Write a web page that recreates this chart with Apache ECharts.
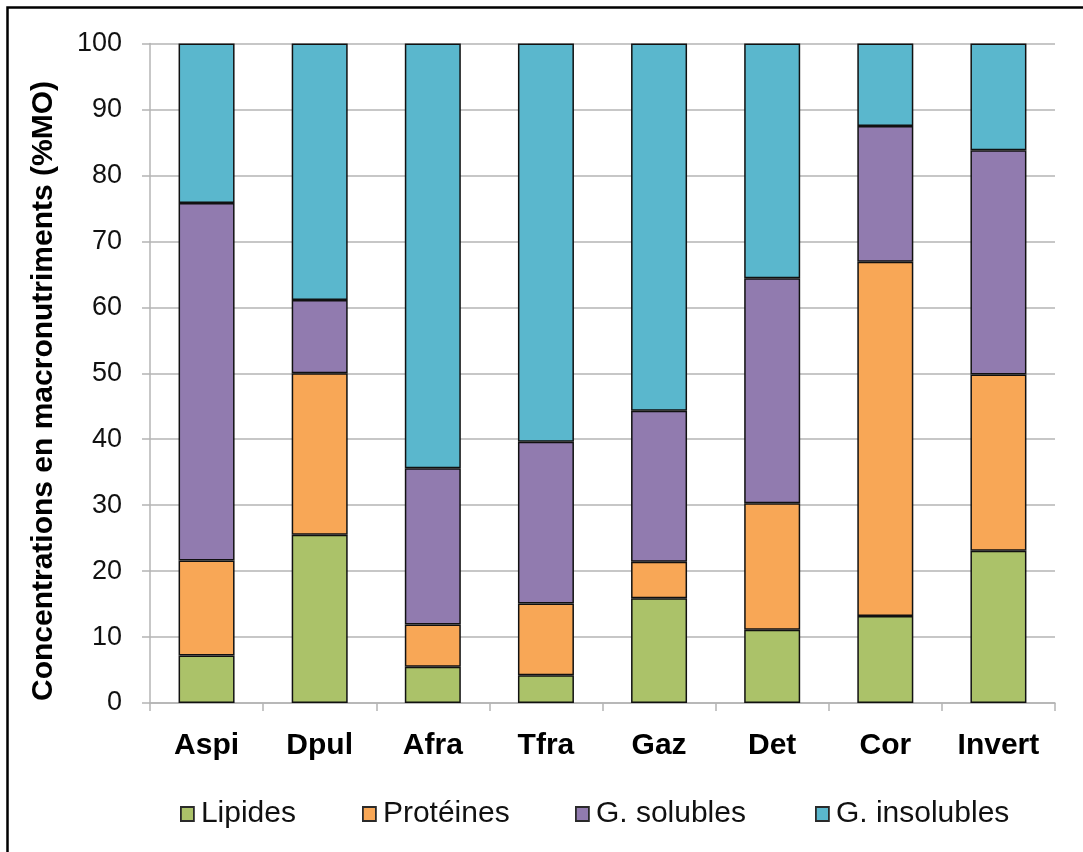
<!DOCTYPE html>
<html>
<head>
<meta charset="utf-8">
<script src="https://cdn.jsdelivr.net/npm/echarts@6/dist/echarts.min.js"></script>
<style>
  html, body { margin: 0; padding: 0; background: #ffffff; }
  #chart { width: 1083px; height: 852px; }
</style>
</head>
<body>
<div id="chart"></div>
<script>
// Macronutrient composition (% of organic matter) per food category
const categories = ['Aspi', 'Dpul', 'Afra', 'Tfra', 'Gaz', 'Det', 'Cor', 'Invert'];
const lipides    = [7.2, 25.5, 5.5, 4.2, 15.9, 11.1, 13.2, 23.1];
const proteines  = [14.4, 24.5, 6.4, 10.9, 5.5, 19.2, 53.7, 26.7];
const gSolubles  = [54.2, 11.1, 23.7, 24.5, 22.9, 34.1, 20.6, 34.0];
const gInsolubles = [24.2, 38.9, 64.4, 60.4, 55.7, 35.6, 12.5, 16.2];
const yTicks = [0, 10, 20, 30, 40, 50, 60, 70, 80, 90, 100];

const seriesNames = ['Lipides', 'Protéines', 'G. solubles', 'G. insolubles'];
const seriesData = [lipides, proteines, gSolubles, gInsolubles];
const colors = ['#abc269', '#f8a756', '#917baf', '#5ab7cd'];

const FONT = 'Liberation Sans, Arial, sans-serif';
const GRID_COLOR = '#b4b4b4';

const chart = echarts.init(document.getElementById('chart'), null, { renderer: 'canvas' });

// one single-item legend per series so each entry sits at its own x
const legendLefts = [175, 357, 570, 810];
const legends = seriesNames.map((name, i) => ({
  data: [name],
  left: legendLefts[i],
  top: 794,
  orient: 'horizontal',
  itemWidth: 13,
  itemHeight: 14,
  itemGap: 0,
  icon: 'rect',
  selectedMode: false,
  textStyle: { fontFamily: FONT, fontSize: 30, color: '#111', padding: [0, 0, 0, 2] },
  itemStyle: { borderColor: '#2a2a2a', borderWidth: 1.8 }
}));

chart.setOption({
  animation: false,
  backgroundColor: '#ffffff',
  grid: { left: 150, right: 28, top: 43.5, bottom: 149, containLabel: false },
  legend: legends,
  graphic: [
    {
      type: 'rect',
      shape: { x: 7.5, y: 7.5, width: 1200, height: 1000 },
      style: { fill: 'none', stroke: '#000', lineWidth: 2.5 },
      silent: true
    },
    {
      type: 'text',
      x: 44,
      y: 391,
      rotation: Math.PI / 2,
      style: {
        text: 'Concentrations en macronutriments (%MO)',
        fontFamily: FONT,
        fontSize: 30,
        fontWeight: 'bold',
        fill: '#000',
        textAlign: 'center',
        textVerticalAlign: 'middle'
      },
      silent: true
    }
  ],
  xAxis: {
    type: 'category',
    data: categories,
    axisLine: { lineStyle: { color: GRID_COLOR, width: 1.5 } },
    axisTick: { show: true, length: 8, lineStyle: { color: GRID_COLOR, width: 1.5 } },
    axisLabel: {
      margin: 28,
      fontFamily: FONT,
      fontSize: 30,
      fontWeight: 'bold',
      color: '#000'
    }
  },
  yAxis: {
    type: 'value',
    min: yTicks[0],
    max: yTicks[yTicks.length - 1],
    interval: yTicks[1] - yTicks[0],
    axisLine: { show: true, lineStyle: { color: GRID_COLOR, width: 1.5 } },
    axisTick: { show: true, length: 8, lineStyle: { color: GRID_COLOR, width: 1.5 } },
    splitLine: { lineStyle: { color: GRID_COLOR, width: 1.5 } },
    axisLabel: {
      margin: 28,
      fontFamily: FONT,
      fontSize: 27,
      color: '#111'
    }
  },
  series: seriesNames.map((name, i) => ({
    name: name,
    type: 'bar',
    stack: 'total',
    barWidth: '49.5%',
    data: seriesData[i],
    itemStyle: { color: colors[i], borderColor: '#111', borderWidth: 1.5 },
    emphasis: { disabled: true }
  }))
});
</script>
</body>
</html>
